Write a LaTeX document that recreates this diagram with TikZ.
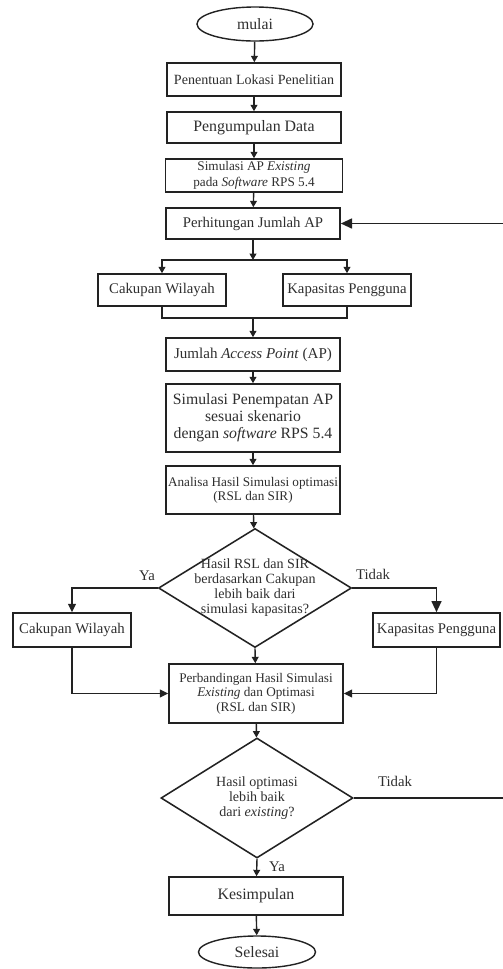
\documentclass[tikz,border=0pt]{standalone}
\usepackage{fontspec}
\setmainfont{Liberation Serif}
\usetikzlibrary{shapes.geometric,arrows.meta,positioning}
\definecolor{ink}{HTML}{222222}
\definecolor{txt}{HTML}{2E2E2E}
\tikzset{
  proc/.style={draw=ink,line width=1.1pt,minimum width=4.35cm,minimum height=0.8cm,inner sep=1pt,align=center,text=txt,font=\fontsize{10.5}{12}\selectfont},
  term/.style={ellipse,draw=ink,line width=1pt,minimum width=2.9cm,minimum height=0.85cm,inner sep=0pt,text=txt,font=\fontsize{11.2}{12}\selectfont},
  decis/.style={diamond,draw=ink,line width=1.1pt,aspect=1.62,inner xsep=-0.45cm,inner ysep=-0.15cm,align=center,text=txt,font=\fontsize{10}{10.7}\selectfont},
  flow/.style={ink,line width=1pt,-{Triangle[length=1.6mm,width=1.7mm]}},
  flowm/.style={ink,line width=1pt,-{Triangle[length=2.1mm,width=2mm]}},
  flowb/.style={ink,line width=1.1pt,-{Triangle[length=2.8mm,width=2.5mm]}},
  link/.style={ink,line width=1pt},
  blbl/.style={text=txt,font=\fontsize{10.5}{12}\selectfont},
}
\begin{document}
\begin{tikzpicture}[x=0.025cm,y=-0.025cm]
  \useasboundingbox (0,0) rectangle (502,969);
  % main column
  \node[term] (start) at (255,24) {mulai};
  \node[proc,font=\fontsize{10}{12}\selectfont,minimum height=0.825cm] (lokasi) at (254,79.5) {Penentuan Lokasi Penelitian};
  \node[proc,font=\fontsize{11.3}{12}\selectfont,minimum height=0.775cm] (data) at (254,127.5) {Pengumpulan Data};
  \node[proc,font=\fontsize{9.4}{11}\selectfont,minimum width=4.42cm,minimum height=0.825cm] (simexist) at (254,175.5) {Simulasi AP \textit{Existing}\\pada \textit{Software} RPS 5.4};
  \node[proc,minimum height=0.775cm] (hitung) at (253,223.5) {Perhitungan Jumlah AP};
  \coordinate (split) at (253,260);
  \node[proc,minimum width=3.2cm] (cakup1) at (162,290) {Cakupan Wilayah};
  \node[proc,minimum width=3.2cm] (kapas1) at (347,290) {Kapasitas Pengguna};
  \coordinate (merge) at (253,318);
  \node[proc,font=\fontsize{10.7}{12}\selectfont,minimum height=0.825cm] (jumlah) at (253,354.5) {Jumlah \textit{Access Point} (AP)};
  \node[proc,font=\fontsize{11.2}{12}\selectfont,minimum height=1.7cm] (penempatan) at (253,418) {Simulasi Penempatan AP\\sesuai skenario\\dengan \textit{software} RPS 5.4};
  \node[proc,font=\fontsize{9.4}{10}\selectfont,minimum height=1.2cm] (analisa) at (253,490) {Analisa Hasil Simulasi optimasi\\(RSL dan SIR)};
  \node[decis,minimum width=4.825cm,minimum height=2.975cm] (banding1) at (255,588) {Hasil RSL dan SIR\\berdasarkan Cakupan\\lebih baik dari\\simulasi kapasitas?};
  \node[proc,minimum width=2.95cm,minimum height=0.85cm] (cakup2) at (72,630) {Cakupan Wilayah};
  \node[proc,minimum width=3.175cm,minimum height=0.85cm] (kapas2) at (436.5,630) {Kapasitas Pengguna};
  \node[proc,font=\fontsize{9.4}{10.3}\selectfont,minimum height=1.475cm] (perbandingan) at (256,693.5) {Perbandingan Hasil Simulasi\\\textit{Existing} dan Optimasi\\(RSL dan SIR)};
  \node[decis,font=\fontsize{10}{10.7}\selectfont,minimum width=4.8cm,minimum height=3cm] (banding2) at (257,798) {Hasil optimasi\\lebih baik\\dari \textit{existing}?};
  \node[proc,font=\fontsize{11.3}{12}\selectfont,minimum height=0.95cm] (simpul) at (256,896) {Kesimpulan};
  \node[term,minimum width=2.925cm,minimum height=0.8cm] (selesai) at (257,952) {Selesai};
  % feedback corner, just past the right edge
  \coordinate (back) at (506,798);
  % labels
  \node[blbl] (ya1) at (147,576) {Ya};
  \node[blbl] (tidak1) at (373,574) {Tidak};
  \node[blbl] (tidak2) at (395,781) {Tidak};
  \node[blbl] (ya2) at (277,867) {Ya};
  % connectors
  \draw[flow] (start) -- (lokasi);
  \draw[flow] (lokasi) -- (data);
  \draw[flow] (data) -- (simexist);
  \draw[flow] (simexist) -- (hitung);
  \draw[flow] (hitung) -- (split);
  \draw[flow] (split) -| (cakup1.north);
  \draw[flow] (split) -| (kapas1.north);
  \draw[link] (cakup1.south) |- (merge);
  \draw[link] (kapas1.south) |- (merge);
  \draw[flow] (merge) -- (jumlah);
  \draw[flow] (jumlah) -- (penempatan);
  \draw[flow] (penempatan) -- (analisa);
  \draw[flow] (analisa) -- (banding1);
  \draw[flowm] (banding1.west) -| (cakup2.north);
  \draw[flowb] (banding1.east) -| (kapas2.north);
  \draw[flow] (banding1.south) -- (perbandingan);
  \draw[flowm] (cakup2.south) |- (perbandingan.west);
  \draw[flowm] (kapas2.south) |- (perbandingan.east);
  \draw[flow] (perbandingan) -- (banding2);
  \draw[flow] (banding2.south) -- (simpul);
  \draw[flow] (simpul) -- (selesai);
  \draw[flowb] (banding2.east) -- (back) |- (hitung.east);
\end{tikzpicture}
\end{document}
